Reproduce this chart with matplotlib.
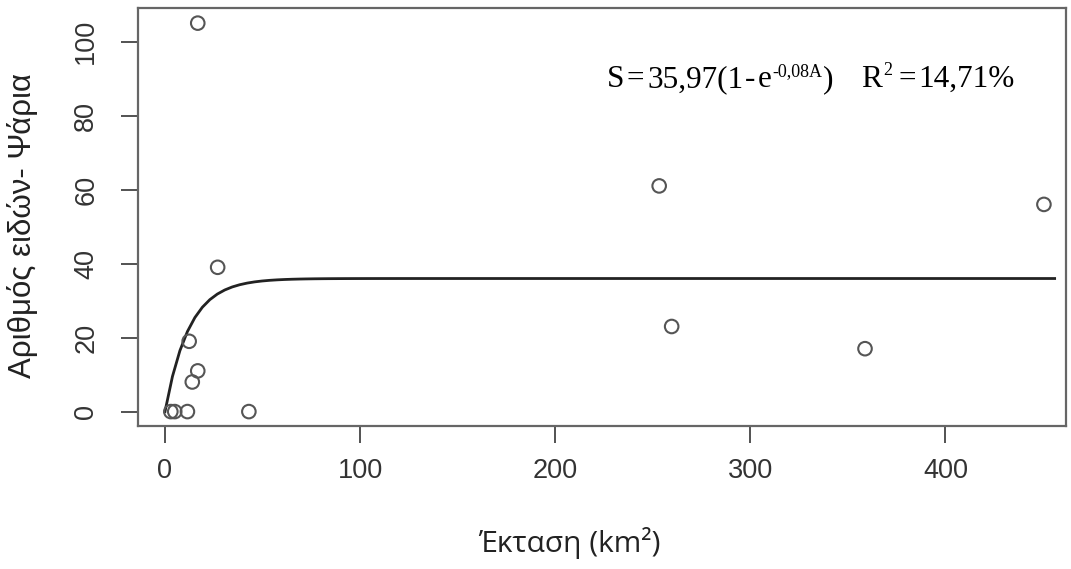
import numpy as np
import matplotlib
matplotlib.use("Agg")
import matplotlib.pyplot as plt

# Surface area (km2) and number of fish species per site
area = [16.8, 27.0, 12.4, 16.8, 14.0, 3.0, 5.0, 11.5, 43.0, 253.3, 259.7, 358.8, 450.5]
species = [105, 39, 19, 11, 8, 0, 0, 0, 0, 61, 23, 17, 56]

# Fitted model S = a(1 - e^(-bA))
a_fit = 35.97
b_fit = 0.08
r2_text = "14,71%"

x_ticks = [0, 100, 200, 300, 400]
y_ticks = [0, 20, 40, 60, 80, 100]

plt.rcParams["font.family"] = ["Liberation Sans", "DejaVu Sans"]

W, H = 1071, 569
fig = plt.figure(figsize=(W / 100, H / 100), dpi=100)
ax = fig.add_axes([0.1289, 0.2513, 0.8664, 0.7347])

ax.scatter(area, species, s=95, facecolors="none", edgecolors="#555555",
           linewidths=1.5, zorder=3)

xs = np.linspace(0, 456, 120)
ax.plot(xs, a_fit * (1 - np.exp(-b_fit * xs)), color="#222222", lw=2.0, zorder=2)

ax.set_xlim(-13.8, 461.8)
ax.set_ylim(-3.9, 109.1)
ax.set_xticks(x_ticks)
ax.set_yticks(y_ticks)
ax.tick_params(axis="both", direction="out", length=12, width=1.3,
               color="#444444", labelsize=19.5, labelcolor="#333333")
ax.tick_params(axis="x", pad=11)
ax.tick_params(axis="y", pad=16)
for lbl in ax.get_yticklabels():
    lbl.set_rotation(90)
    lbl.set_va("center")

for sp in ax.spines.values():
    sp.set_color("#666666")
    sp.set_linewidth(1.6)

ax.set_ylabel("Αριθμός ειδών- Ψάρια", fontsize=22.5, color="#222222")
ax.yaxis.set_label_coords(-0.108, 0.48)
fig.text(0.532, 1 - 543 / H, "Έκταση (km²)", fontsize=21.5,
         family=["Open Sans", "DejaVu Sans"], color="#222222",
         ha="center", va="center")

# model equation, typeset piece by piece: (text, size, raise px, gap px)
exp_txt = "-" + str(b_fit).replace(".", ",").ljust(4, "0") + "A"
a_txt = f"{a_fit:.2f}".replace(".", ",")
pieces = [
    ("S", 22.5, 0, 0),
    ("=", 22.5, 0, 2),
    (a_txt + "(1", 22.5, 0, 3),
    ("-", 22.5, 0, 2),
    ("e", 22.5, 0, 2),
    (exp_txt, 13, 11, 1),
    (")", 22.5, 0, 1),
    ("R", 22.5, 0, 27),
    ("2", 13, 12, 2),
    ("=", 22.5, 0, 6),
    (r2_text, 22.5, 0, 2),
]
renderer = fig.canvas.get_renderer()
x_px = 607
base_px = H - 87
for txt, size, rise, gap in pieces:
    x_px += gap
    t = fig.text(x_px / W, (base_px + rise) / H, txt, fontsize=size,
                 family=["Liberation Serif", "DejaVu Serif"], color="black",
                 ha="left", va="baseline")
    x_px = t.get_window_extent(renderer).x1

fig.savefig("out.png", dpi=100)
